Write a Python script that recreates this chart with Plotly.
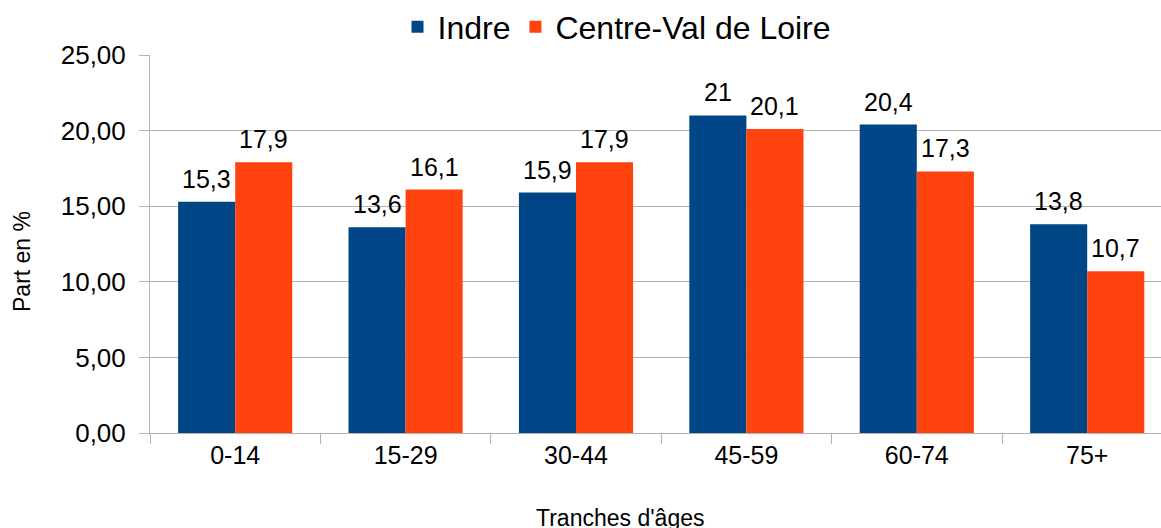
import plotly.graph_objects as go

categories = ["0-14", "15-29", "30-44", "45-59", "60-74", "75+"]
indre = [15.3, 13.6, 15.9, 21, 20.4, 13.8]
centre = [17.9, 16.1, 17.9, 20.1, 17.3, 10.7]
series_names = ["Indre", "Centre-Val de Loire"]
y_ticks = [0, 5, 10, 15, 20, 25]

def fmt(v):
    s = ("%g" % v)
    return s.replace(".", ",")

W, H = 1161, 528
L, T, B = 150, 55, 95
plot_w = W - L
plot_h = H - T - B
cat_px = 170.4
bargap = 0.33
bar_px = cat_px * (1 - bargap) / 2

fig = go.Figure()
fig.add_trace(go.Bar(x=categories, y=indre, name=series_names[0],
                     marker=dict(color="#004586", line=dict(width=0))))
fig.add_trace(go.Bar(x=categories, y=centre, name=series_names[1],
                     marker=dict(color="#ff420e", line=dict(width=0))))

annots = []
for vals, sh in ((indre, -bar_px / 2), (centre, bar_px / 2)):
    for c, v in zip(categories, vals):
        annots.append(dict(x=c, y=v, xref="x", yref="y", text=fmt(v),
                           xshift=sh, yshift=7, yanchor="bottom", xanchor="center",
                           showarrow=False, font=dict(size=25, color="#000000")))

annots += [
    dict(text="Part en %", xref="paper", yref="paper",
         x=(22 - L) / plot_w, y=(H - B - 262) / plot_h,
         xanchor="center", yanchor="middle", textangle=-90,
         showarrow=False, font=dict(size=23)),
    dict(text="Tranches d'âges", xref="paper", yref="paper",
         x=(620 - L) / plot_w, y=-(518 - (H - B)) / plot_h,
         xanchor="center", yanchor="middle",
         showarrow=False, font=dict(size=23)),
]

fig.update_layout(
    width=W, height=H,
    margin=dict(l=L, r=0, t=T, b=B, pad=0, autoexpand=False),
    paper_bgcolor="white", plot_bgcolor="white",
    font=dict(family="Liberation Sans, Arial, sans-serif", color="#000000", size=24),
    separators=", ",
    barmode="group", bargap=bargap, bargroupgap=0,
    showlegend=True,
    legend=dict(orientation="h", x=(617 - L) / plot_w, xanchor="center",
                y=(H - B - 27) / plot_h, yanchor="middle",
                font=dict(size=32), itemwidth=30, bgcolor="rgba(0,0,0,0)",
                tracegroupgap=0),
    xaxis=dict(range=[-0.5, -0.5 + plot_w / cat_px], tickson="boundaries",
               ticks="outside", ticklen=10, tickcolor="#b3b3b3", tickwidth=1,
               showline=True, linecolor="#b3b3b3", linewidth=1,
               showgrid=False, tickfont=dict(size=25), fixedrange=True,
               automargin=False),
    yaxis=dict(range=[0, 25], tickvals=y_ticks, tickformat=".2f",
               ticks="outside", ticklen=10, tickcolor="#b3b3b3", tickwidth=1,
               showline=True, linecolor="#b3b3b3", linewidth=1,
               showgrid=True, gridcolor="#b3b3b3", gridwidth=1,
               zeroline=False, tickfont=dict(size=26), ticklabelstandoff=8,
               fixedrange=True, automargin=False),
    annotations=annots,
)

fig.write_html("out.html", config={"displayModeBar": False, "staticPlot": True},
               post_script="document.body.style.margin='0';document.body.style.overflow='hidden';")
